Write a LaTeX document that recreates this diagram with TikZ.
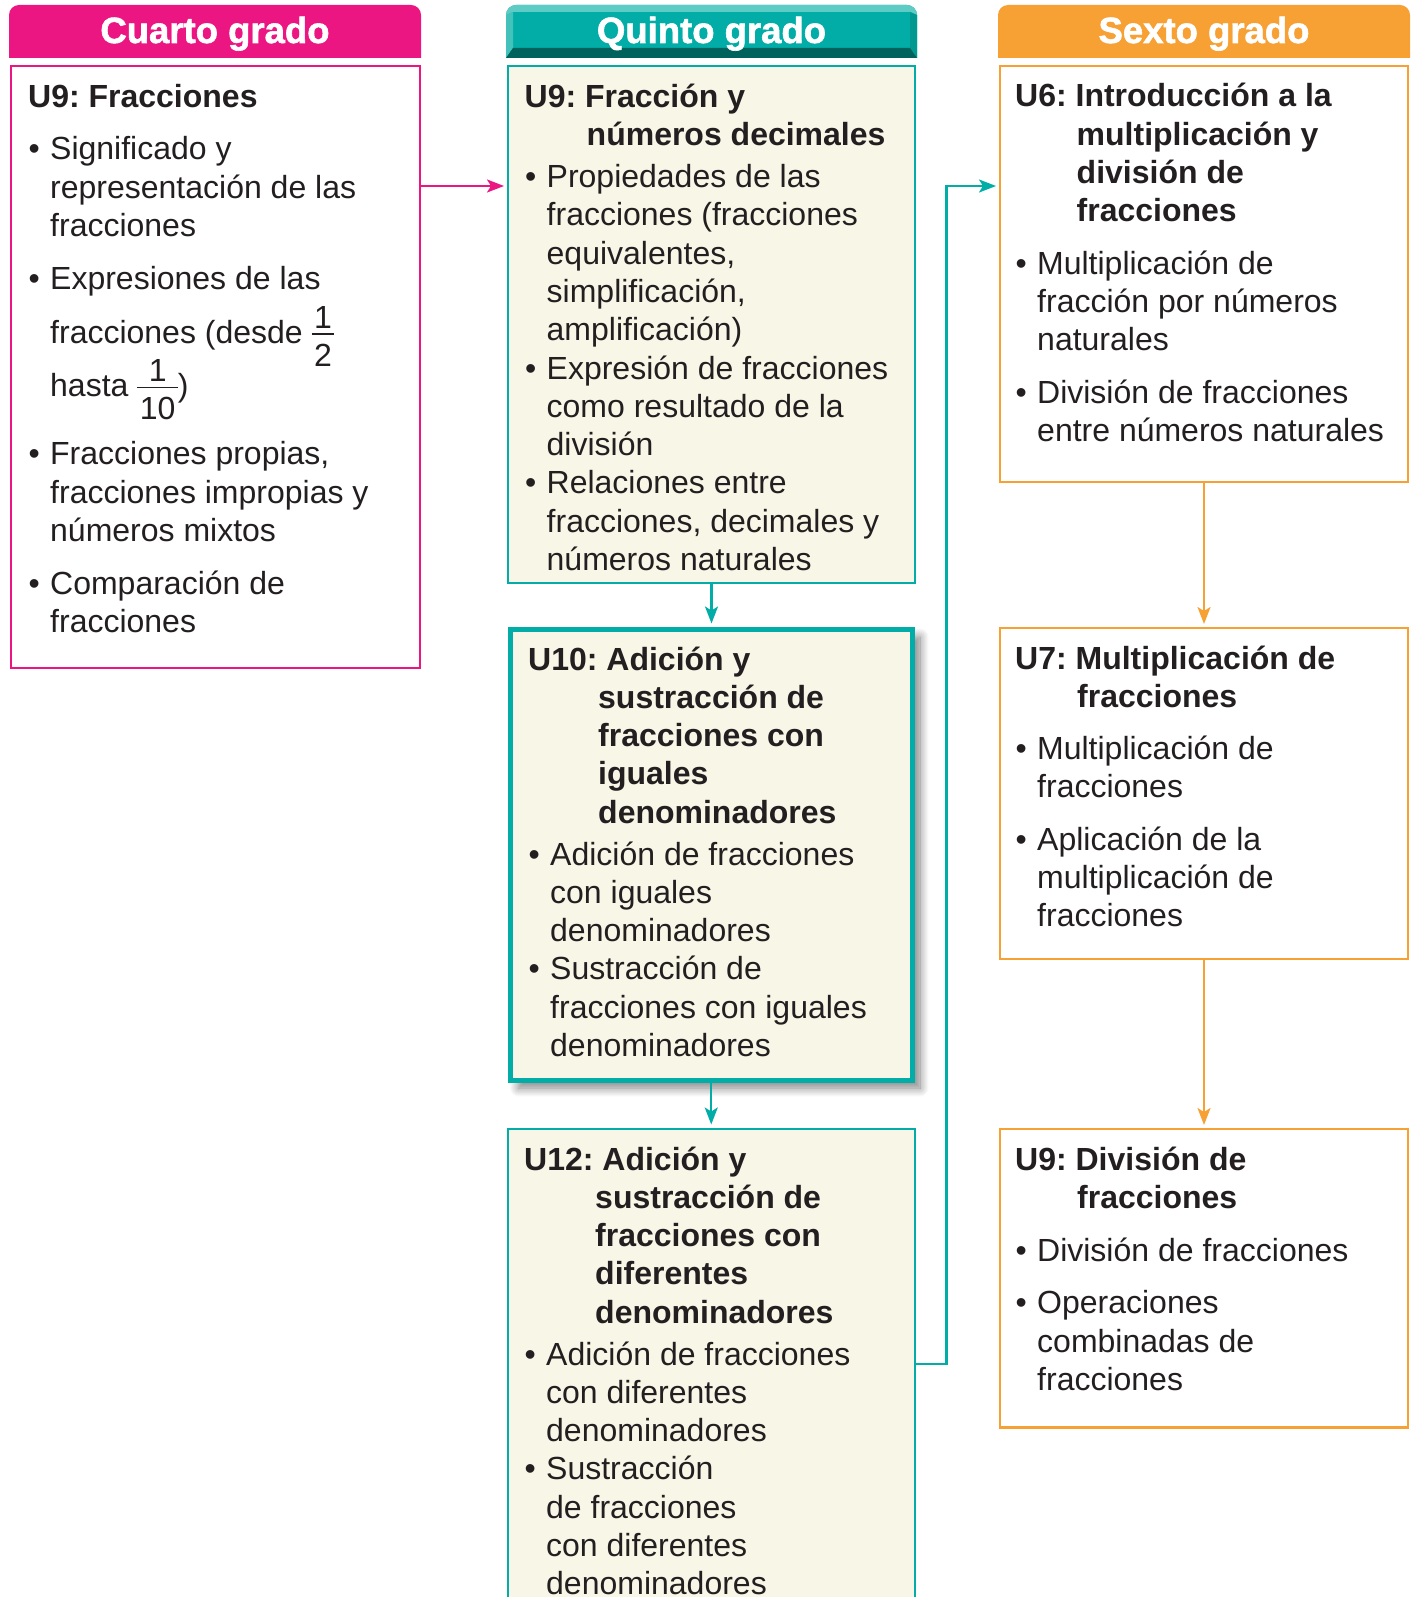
\documentclass[tikz,border=0pt]{standalone}
\usepackage{fontspec}
\setmainfont{Liberation Sans}
\newfontfamily\hdrfont{Liberation Sans}[BoldFeatures={FakeBold=1.6}]
\usetikzlibrary{arrows.meta,shadows.blur}
\definecolor{pinkc}{HTML}{EC1683}
\definecolor{tealc}{HTML}{02ADA7}
\definecolor{teald}{HTML}{00625C}
\definecolor{teall}{HTML}{5FCBC5}
\definecolor{tealr}{HTML}{019890}
\definecolor{orangec}{HTML}{F7A135}
\definecolor{creamc}{HTML}{F7F6E7}
\definecolor{textc}{HTML}{231F20}
\frenchspacing
\newcommand\nl[1][0pt]{\vadjust{\vskip#1}\hfil\break}
\newcommand\bxset[1]{\fontsize{32}{38.3}\selectfont\frenchspacing\spaceskip=0pt\xspaceskip=0pt\setlength{\parskip}{#1}}
\newcommand\ttl[2]{\noindent\hangindent=#1\hangafter=1{\bfseries #2}\par}
\newcommand\itm[1]{\par\noindent\hangindent=22pt\hangafter=1\makebox[22pt][l]{\hspace{0.5pt}•}#1\par}
\newcommand\fr[2]{%
  \setbox2\hbox{#1}\setbox4\hbox{#2}%
  \dimen0=\ifdim\wd2>\wd4 \wd2\else\wd4\fi
  \advance\dimen0 by 5pt
  \setbox6\hbox to\dimen0{%
    \rlap{\hbox to\dimen0{\hss\raise15pt\box2\hss}}%
    \rlap{\hbox to\dimen0{\hss\lower23.5pt\box4\hss}}%
    \rlap{\raise8pt\hbox{\vrule width\dimen0 height 1.8pt depth 0pt}}%
    \hss}%
  \ht6=0pt\dp6=0pt\box6}
\begin{document}
\begin{tikzpicture}[x=1pt,y=-1pt,
  box/.style={draw, line width=2.2pt, anchor=north west, inner sep=0pt},
  txt/.style={anchor=base west, inner sep=0pt, text width=430pt, text=textc, font=\fontsize{32}{38.3}\selectfont},
  hdr/.style={anchor=base, inner sep=0pt, text=white, font=\fontsize{36.5}{40}\selectfont\hdrfont\bfseries},
  arr/.style={line width=2.2pt, -{Stealth[length=17pt,width=13pt,inset=4pt]}, shorten >=3pt}]
\useasboundingbox (0,0) rectangle (1411,1597);
\clip (0,0) rectangle (1411,1597);
% headers
\fill[pinkc] (9,58) -- (9,15) arc[start angle=180,end angle=90,radius=10pt] -- (411,5) arc[start angle=90,end angle=0,radius=10pt] -- (421,58) -- cycle;
\fill[tealc] (506,58) -- (506,15) arc[start angle=180,end angle=90,radius=10pt] -- (907,5) arc[start angle=90,end angle=0,radius=10pt] -- (917,58) -- cycle;
\fill[teall] (506,15) arc[start angle=180,end angle=90,radius=10pt] -- (907,5) arc[start angle=90,end angle=0,radius=10pt] -- (910,12) -- (513,12) -- cycle;
\fill[teall!70!tealc] (506,15) -- (513,12) -- (513,48) -- (506,58) -- cycle;
\fill[tealr] (917,15) -- (910,12) -- (910,48) -- (917,58) -- cycle;
\fill[teald] (506,58) -- (513,48) -- (910,48) -- (917,58) -- cycle;
\fill[orangec] (998,58) -- (998,15) arc[start angle=180,end angle=90,radius=10pt] -- (1400,5) arc[start angle=90,end angle=0,radius=10pt] -- (1410,58) -- cycle;
\node[hdr] (h1) at (215,43) {Cuarto grado};
\node[hdr] (h2) at (711.5,43) {Quinto grado};
\node[hdr] (h3) at (1204,43) {Sexto grado};
% boxes
\node[box, draw=pinkc, fill=white, minimum width=408.8pt, minimum height=601.8pt] (c1) at (10,65) {};
\node[box, draw=tealc, fill=creamc, minimum width=406.8pt, minimum height=516.8pt] (q9) at (507,65) {};
\node[box, draw=tealc, fill=creamc, line width=5pt, minimum width=401.5pt, minimum height=451pt,
  blur shadow={shadow xshift=8pt, shadow yshift=-8pt, shadow blur radius=9pt, shadow blur steps=14, shadow opacity=50}] (q10) at (508,626.5) {};
\node[box, draw=tealc, fill=creamc, minimum width=406.8pt, minimum height=490pt] (q12) at (507,1127.5) {};
\node[box, draw=orangec, fill=white, minimum width=407.8pt, minimum height=415.8pt] (s6) at (999,65) {};
\node[box, draw=orangec, fill=white, minimum width=407.8pt, minimum height=330.8pt] (s7) at (999,627) {};
\node[box, draw=orangec, fill=white, minimum width=407.8pt, minimum height=298.3pt] (s9) at (999,1128) {};
% texts
\node[txt] (tc1) at (28,107.7) {\bxset{15pt}\ttl{0pt}{U9: Fracciones}\vspace{-1pt}%
\itm{Significado y\nl representación de las\nl fracciones}%
\itm{Expresiones de las\nl[15pt]fracciones (desde \fr{1}{2}\nl[15pt]hasta \fr{1}{10})}\vspace{15pt}%
\itm{Fracciones propias,\nl fracciones impropias y\nl números mixtos}%
\itm{Comparación de\nl fracciones}};
\node[txt] (tq9) at (524.5,107.5) {\bxset{0pt}\ttl{62pt}{U9: Fracción y\nl números decimales}\vspace{3.5pt}%
\itm{Propiedades de las\nl fracciones (fracciones\nl equivalentes,\nl simplificación,\nl amplificación)}%
\itm{Expresión de fracciones\nl como resultado de la\nl división}%
\itm{Relaciones entre\nl fracciones, decimales y\nl números naturales}};
\node[txt] (tq10) at (528,670) {\bxset{0pt}\ttl{70pt}{U10: Adición y\nl sustracción de\nl fracciones con\nl iguales\nl denominadores}\vspace{3.5pt}%
\itm{Adición de fracciones\nl con iguales\nl denominadores}%
\itm{Sustracción de\nl fracciones con iguales\nl denominadores}};
\node[txt] (tq12) at (524,1170) {\bxset{0pt}\ttl{71pt}{U12: Adición y\nl sustracción de\nl fracciones con\nl diferentes\nl denominadores}\vspace{3.5pt}%
\itm{Adición de fracciones\nl con diferentes\nl denominadores}%
\itm{Sustracción\nl de fracciones\nl con diferentes\nl denominadores}};
\node[txt] (ts6) at (1015,107) {\bxset{14pt}\ttl{61.5pt}{U6: Introducción a la\nl multiplicación y\nl división de\nl fracciones}%
\itm{Multiplicación de\nl fracción por números\nl naturales}%
\itm{División de fracciones\nl entre números naturales}};
\node[txt] (ts7) at (1015,669) {\bxset{14pt}\ttl{62pt}{U7: Multiplicación de\nl fracciones}%
\itm{Multiplicación de\nl fracciones}%
\itm{Aplicación de la\nl multiplicación de\nl fracciones}};
\node[txt] (ts9) at (1015,1170) {\bxset{14.5pt}\ttl{62pt}{U9: División de\nl fracciones}%
\itm{División de fracciones}%
\itm{Operaciones\nl combinadas de\nl fracciones}};
% connectors
\draw[arr, draw=pinkc, line width=2pt] ([yshift=-121pt]c1.north east) -- ([yshift=-121pt]q9.north west);
\draw[arr, draw=tealc] (q9.south) -- (q9.south |- q10.north);
\draw[arr, draw=tealc] (q10.south) -- (q10.south |- q12.north);
\coordinate (bus) at (946.5,0);
\coordinate (bs) at ([yshift=-236.5pt]q12.north east);
\coordinate (be) at ([yshift=-121pt]s6.north west);
\draw[arr, draw=tealc] (bs) -- (bs -| bus) -- (bus |- be) -- (be);
\draw[arr, draw=orangec] (s6.south) -- (s7.north);
\draw[arr, draw=orangec] (s7.south) -- (s9.north);
\end{tikzpicture}
\end{document}
